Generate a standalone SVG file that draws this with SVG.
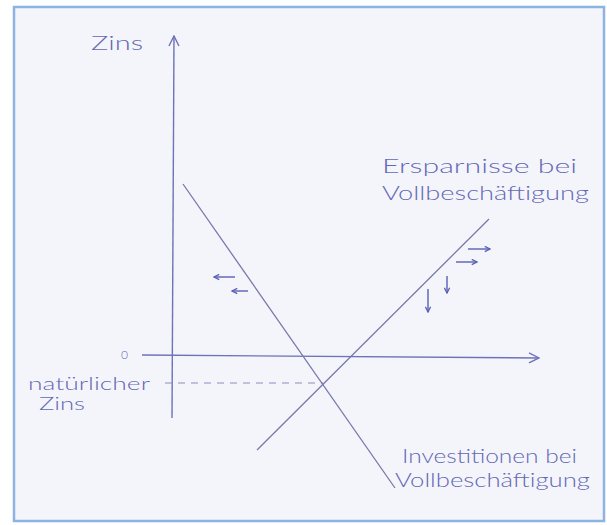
<svg xmlns="http://www.w3.org/2000/svg" width="607" height="525" viewBox="0 0 607 525">
  <defs>
    <marker id="chev" viewBox="0 0 12 12" refX="11" refY="6" markerWidth="12" markerHeight="12" markerUnits="userSpaceOnUse" orient="auto">
      <path d="M1,1 L11,6 L1,11" fill="none" stroke="#6e72b6" stroke-width="1.4"/>
    </marker>
    <marker id="small" viewBox="0 0 8 8" refX="7" refY="4" markerWidth="7" markerHeight="7" markerUnits="userSpaceOnUse" orient="auto">
      <path d="M1,1 L7,4 L1,7" fill="none" stroke="#5a5fb4" stroke-width="1.5"/>
    </marker>
  </defs>
  <style>
    .hand { font-family: "Lato", "Liberation Sans", "DejaVu Sans", sans-serif; font-weight: 300; fill: #6468b4; }
    .axis { stroke: #6e72b6; stroke-width: 1.4; fill: none; }
    .curve { stroke: #7679aa; stroke-width: 1.3; fill: none; }
    .dash { stroke: #8a8dbc; stroke-width: 1; stroke-dasharray: 7 6; fill: none; }
    .move { stroke: #5a5fb4; stroke-width: 1.4; fill: none; }
  </style>
  <rect x="0" y="0" width="607" height="525" fill="#ffffff"/>
  <rect x="14" y="7" width="590" height="514" fill="#f4f5fb" stroke="#8db3e2" stroke-width="2.5"/>

  <g id="connectors">
    <line class="axis" x1="172" y1="418" x2="174" y2="36" marker-end="url(#chev)"/>
    <line class="axis" x1="142" y1="355" x2="539" y2="358" marker-end="url(#chev)"/>
    <line class="dash" x1="165" y1="383" x2="323" y2="383"/>
    <line id="investitionen-kurve" class="curve" x1="183" y1="184" x2="395" y2="488"/>
    <line id="ersparnisse-kurve" class="curve" x1="257" y1="450" x2="489" y2="219"/>
    <line class="move" x1="235" y1="277" x2="214" y2="277" marker-end="url(#small)"/>
    <line class="move" x1="248" y1="291" x2="232" y2="291" marker-end="url(#small)"/>
    <line class="move" x1="468" y1="249" x2="490" y2="249" marker-end="url(#small)"/>
    <line class="move" x1="456" y1="262" x2="477" y2="262" marker-end="url(#small)"/>
    <line class="move" x1="447" y1="276" x2="447" y2="293" marker-end="url(#small)"/>
    <line class="move" x1="428" y1="289" x2="428" y2="312" marker-end="url(#small)"/>
  </g>

  <g id="label-zins-axis">
    <text class="hand" x="91" y="50" font-size="19" textLength="52" lengthAdjust="spacingAndGlyphs">Zins</text>
  </g>
  <g id="label-null">
    <text class="hand" x="121" y="359" font-size="12">0</text>
  </g>
  <g id="label-natuerlicher-zins">
    <text class="hand" x="28" y="390" font-size="18" textLength="122" lengthAdjust="spacingAndGlyphs">natürlicher</text>
    <text class="hand" x="39" y="410" font-size="17" textLength="46" lengthAdjust="spacingAndGlyphs">Zins</text>
  </g>
  <g id="label-ersparnisse">
    <text class="hand" x="382" y="173" font-size="20" textLength="195" lengthAdjust="spacingAndGlyphs">Ersparnisse bei</text>
    <text class="hand" x="382" y="200" font-size="20" textLength="207" lengthAdjust="spacingAndGlyphs">Vollbeschäftigung</text>
  </g>
  <g id="label-investitionen">
    <text class="hand" x="402" y="463" font-size="19" textLength="175" lengthAdjust="spacingAndGlyphs">Investitionen bei</text>
    <text class="hand" x="395" y="487" font-size="19" textLength="195" lengthAdjust="spacingAndGlyphs">Vollbeschäftigung</text>
  </g>
</svg>
